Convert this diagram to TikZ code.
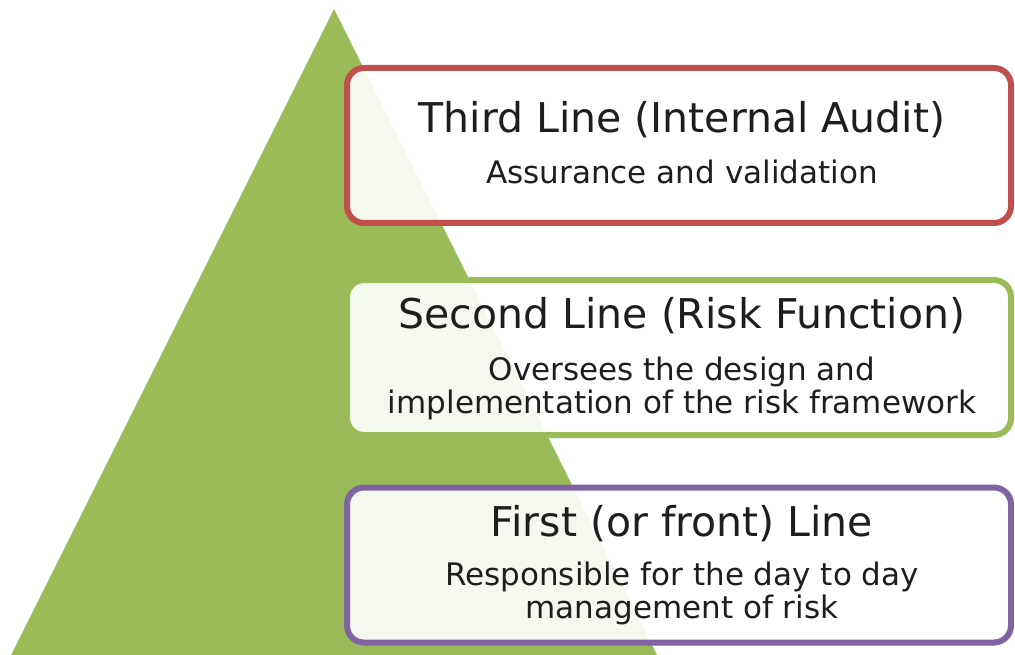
\documentclass[tikz,border=0pt]{standalone}
\usepackage{fontspec}
\setmainfont{DejaVu Sans}
\begin{document}
\definecolor{pyrgreen}{HTML}{9BBB59}
\definecolor{linered}{HTML}{C0504D}
\definecolor{linegreen}{HTML}{9BBB59}
\definecolor{linepurple}{HTML}{8064A2}
\definecolor{inktext}{HTML}{1E1E1E}
\begin{tikzpicture}[x=1pt,y=-1pt,
  linebox/.style={draw=#1, line width=6pt, rounded corners=17pt,
    fill=white, fill opacity=0.9, draw opacity=1,
    minimum width=664pt, minimum height=155pt, inner sep=0pt},
  headtext/.style={anchor=base, text=inktext, font=\fontsize{41}{44}\selectfont},
  bodytext/.style={anchor=base, text=inktext, align=center,
    font=\fontsize{31}{33}\selectfont}]
  \useasboundingbox (0,0) rectangle (1015,655);
  \clip (0,0) rectangle (1015,655);
  % pyramid
  \fill[pyrgreen] (334,9) coordinate (apex) -- (11,655) -- (657,655) -- cycle;
  % the three lines of defence
  \node[linebox=linered]    (third)  at (679,145.5) {};
  \node[linebox=linegreen]  (second) at (679,357.5) {};
  \node[linebox=linepurple] (first)  at (679,565)   {};
  % labels (a two-line node sits on the baseline of its last line)
  \node[headtext] (thirdhead)  at (682,133) {Third Line (Internal Audit)};
  \node[bodytext] (thirdbody)  at (682,184) {Assurance and validation};
  \node[headtext] (secondhead) at (682,328) {Second Line (Risk Function)};
  \node[bodytext] (secondbody) at (682,413) {Oversees the design and\\implementation of the risk framework};
  \node[headtext] (firsthead)  at (682,536) {First (or front) Line};
  \node[bodytext] (firstbody)  at (682,618) {Responsible for the day to day\\management of risk};
\end{tikzpicture}
\end{document}
